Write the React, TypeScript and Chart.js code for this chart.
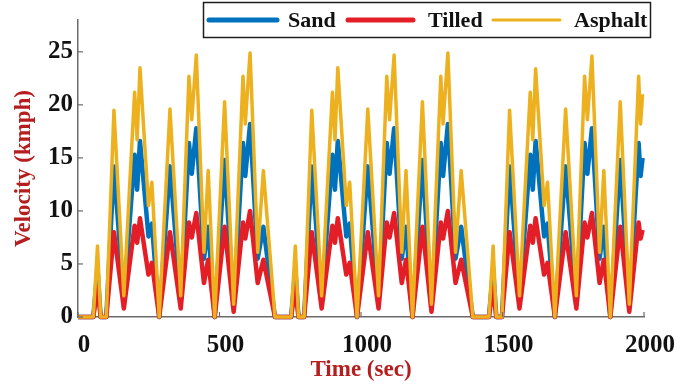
import React, { useEffect, useRef } from 'react';
import { Chart, registerables } from 'chart.js';

Chart.register(...registerables);

// Time axis (seconds)
const timeSec = [
  0, 54, 69, 80, 100, 127, 162, 200, 209, 219, 249, 261, 287, 325, 363, 392, 402, 418, 445, 460, 483, 518, 550, 583, 591, 608, 635, 655, 696,
  753, 768, 779, 799, 826, 861, 899, 908, 918, 948, 960, 986, 1024, 1062, 1091, 1101, 1117, 1144, 1159, 1182, 1217, 1249, 1282, 1290, 1307, 1334, 1354, 1395,
  1452, 1467, 1478, 1498, 1525, 1560, 1598, 1607, 1617, 1647, 1659, 1685, 1723, 1761, 1790, 1800, 1816, 1843, 1858, 1881, 1916, 1948, 1981, 1988, 1995,
];

// Velocity (kmph) per surface
const sandKmph = [
  0, 0, 4.5, 0, 0, 14.2, 1.5, 15.3, 12.0, 16.6, 7.6, 8.8, 0, 14.2, 1.5, 16.4, 13.5, 17.8, 5.5, 8.5, 0, 14.8, 0.9, 16.4, 13.3, 18.2, 5.5, 8.5, 0,
  0, 4.5, 0, 0, 14.2, 1.5, 15.3, 12.0, 16.6, 7.6, 8.8, 0, 14.2, 1.5, 16.4, 13.5, 17.8, 5.5, 8.5, 0, 14.8, 0.9, 16.4, 13.3, 18.2, 5.5, 8.5, 0,
  0, 4.5, 0, 0, 14.2, 1.5, 15.3, 12.0, 16.6, 7.6, 8.8, 0, 14.2, 1.5, 16.4, 13.5, 17.8, 5.5, 8.5, 0, 14.8, 0.9, 16.4, 13.3, 15.0,
];
const tilledKmph = [
  0, 0, 2.8, 0, 0, 8.0, 0.8, 8.6, 7.0, 9.3, 4.0, 5.1, 0, 8.0, 0.8, 8.9, 7.5, 9.8, 3.2, 5.4, 0, 8.5, 0.5, 8.9, 7.4, 10.0, 3.2, 5.4, 0,
  0, 2.8, 0, 0, 8.0, 0.8, 8.6, 7.0, 9.3, 4.0, 5.1, 0, 8.0, 0.8, 8.9, 7.5, 9.8, 3.2, 5.4, 0, 8.5, 0.5, 8.9, 7.4, 10.0, 3.2, 5.4, 0,
  0, 2.8, 0, 0, 8.0, 0.8, 8.6, 7.0, 9.3, 4.0, 5.1, 0, 8.0, 0.8, 8.9, 7.5, 9.8, 3.2, 5.4, 0, 8.5, 0.5, 8.9, 7.4, 8.2,
];
const asphaltKmph = [
  0, 0, 6.7, 0, 0, 19.5, 2.0, 21.2, 16.7, 23.5, 10.5, 12.7, 0, 19.6, 2.0, 22.7, 18.6, 24.7, 6.1, 13.8, 0, 20.3, 1.2, 22.7, 18.2, 24.9, 6.1, 13.8, 0,
  0, 6.7, 0, 0, 19.5, 2.0, 21.2, 16.7, 23.5, 10.5, 12.7, 0, 19.6, 2.0, 22.7, 18.6, 24.7, 6.1, 13.8, 0, 20.3, 1.2, 22.7, 18.2, 24.9, 6.1, 13.8, 0,
  0, 6.7, 0, 0, 19.5, 2.0, 21.2, 16.7, 23.4, 10.5, 12.7, 0, 19.6, 2.0, 22.7, 18.6, 24.6, 6.1, 13.8, 0, 20.3, 1.2, 22.7, 18.2, 21.0,
];

const seriesNames = ['Sand', 'Tilled', 'Asphalt'];
const seriesColors = ['#0072BD', '#E41E26', '#EDB120'];
const xTickValues = [0, 500, 1000, 1500, 2000];
const yTickValues = [0, 5, 10, 15, 20, 25];
const xTitle = 'Time (sec)';
const yTitle = 'Velocity (kmph)';

const FONT = "'Liberation Serif', 'DejaVu Serif', serif";
const TITLE_COLOR = '#B41E1E';
const AXIS_COLOR = '#6a6a6a';

const boxLegend = {
  id: 'boxLegend',
  afterDraw(chart: any) {
    const ctx = chart.ctx as CanvasRenderingContext2D;
    ctx.save();
    const bx = 203.5, by = 2.5, bw = 447, bh = 35;
    ctx.fillStyle = '#ffffff';
    ctx.fillRect(bx, by, bw, bh);
    ctx.strokeStyle = '#1e1e1e';
    ctx.lineWidth = 1.5;
    ctx.strokeRect(bx, by, bw, bh);
    const items = [
      { x0: 209, x1: 277, tx: 288, w: 5 },
      { x0: 348, x1: 413, tx: 428, w: 5 },
      { x0: 493, x1: 560, tx: 574, w: 3 },
    ];
    const ly = 20;
    ctx.font = `bold 22px ${FONT}`;
    ctx.textBaseline = 'middle';
    ctx.textAlign = 'left';
    items.forEach((it, i) => {
      ctx.strokeStyle = seriesColors[i];
      ctx.lineWidth = it.w;
      ctx.lineCap = 'round';
      ctx.beginPath();
      ctx.moveTo(it.x0, ly);
      ctx.lineTo(it.x1, ly);
      ctx.stroke();
      ctx.fillStyle = '#111111';
      ctx.fillText(seriesNames[i], it.tx, ly + 1);
    });
    ctx.restore();
  },
  afterDatasetsDraw(chart: any) {
    const ctx = chart.ctx as CanvasRenderingContext2D;
    const xs = chart.scales.x;
    const ys = chart.scales.y;
    ctx.save();
    ctx.strokeStyle = AXIS_COLOR;
    ctx.lineWidth = 1.2;
    xTickValues.forEach((v) => {
      const px = xs.getPixelForValue(v);
      ctx.beginPath();
      ctx.moveTo(px, ys.bottom);
      ctx.lineTo(px, ys.bottom - 5);
      ctx.stroke();
    });
    yTickValues.forEach((v) => {
      const py = ys.getPixelForValue(v);
      ctx.beginPath();
      ctx.moveTo(xs.left, py);
      ctx.lineTo(xs.left + 5, py);
      ctx.stroke();
    });
    ctx.restore();
  },
};

export default function App() {
  const ref = useRef<HTMLCanvasElement | null>(null);

  useEffect(() => {
    document.body.style.margin = '0';
    const canvas = ref.current;
    if (!canvas) return;
    const series = [sandKmph, tilledKmph, asphaltKmph];
    const widths = [4.5, 4.5, 3.5];
    const orders = [2, 1, 0];
    const chart = new Chart(canvas, {
      type: 'line',
      data: {
        datasets: series.map((vals, i) => ({
          label: seriesNames[i],
          data: timeSec.map((t, k) => ({ x: t, y: vals[k] })),
          borderColor: seriesColors[i],
          backgroundColor: seriesColors[i],
          borderWidth: widths[i],
          pointRadius: 0,
          tension: 0,
          order: orders[i],
          clip: false as any,
          borderJoinStyle: 'round' as const,
        })),
      },
      options: {
        responsive: false,
        animation: false,
        layout: { padding: { top: 20, right: 34, left: 0, bottom: 0 } },
        plugins: { legend: { display: false }, tooltip: { enabled: false } },
        scales: {
          x: {
            type: 'linear',
            min: 0,
            max: 2000,
            afterBuildTicks: (s: any) => {
              s.ticks = xTickValues.map((v) => ({ value: v }));
            },
            afterFit: (s: any) => {
              s.height = 72;
            },
            ticks: {
              font: { family: FONT, size: 25, weight: 'bold' },
              color: '#111111',
              padding: 14,
              labelOffset: 6,
              maxRotation: 0,
              autoSkip: false,
              callback: (v: any) => String(v),
            },
            grid: { display: false, drawTicks: false },
            border: { display: true, color: AXIS_COLOR, width: 1.5 },
            title: {
              display: true,
              text: xTitle,
              color: TITLE_COLOR,
              font: { family: FONT, size: 23, weight: 'bold' },
              padding: { top: 0, bottom: 5 },
            },
          },
          y: {
            type: 'linear',
            min: 0,
            max: 28,
            afterBuildTicks: (s: any) => {
              s.ticks = yTickValues.map((v) => ({ value: v }));
            },
            afterFit: (s: any) => {
              s.width = 78;
            },
            ticks: {
              font: { family: FONT, size: 25, weight: 'bold' },
              color: '#111111',
              padding: 5,
              autoSkip: false,
              callback: (v: any) => String(v),
            },
            grid: { display: false, drawTicks: false },
            border: { display: true, color: AXIS_COLOR, width: 1.5 },
            title: {
              display: true,
              text: yTitle,
              color: TITLE_COLOR,
              font: { family: FONT, size: 23, weight: 'bold' },
              padding: { top: 10, bottom: 0 },
            },
          },
        },
      },
      plugins: [boxLegend],
    });
    return () => chart.destroy();
  }, []);

  return (
    <div style={{ width: 683, height: 389 }}>
      <canvas ref={ref} width={683} height={389} style={{ display: 'block' }} />
    </div>
  );
}
